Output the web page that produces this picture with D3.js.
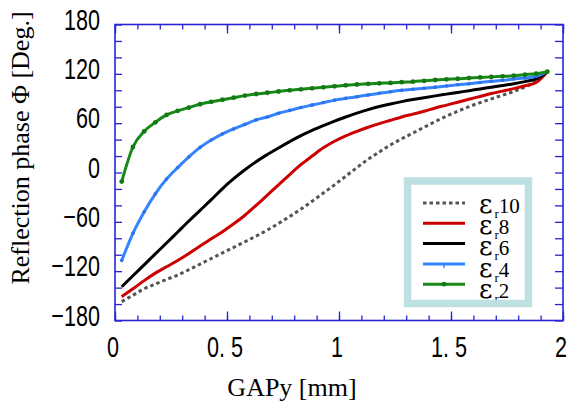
<!DOCTYPE html>
<html>
<head>
<meta charset="utf-8">
<script src="https://cdn.jsdelivr.net/npm/d3@7"></script>
<style>
  body { margin: 0; background: #fff; }
  svg { display: block; }
</style>
</head>
<body>
<div id="chart"></div>
<script>
// GAPy values (mm) shared by all curves
const gapY = [0.03, 0.08, 0.13, 0.18, 0.23, 0.28, 0.33, 0.38, 0.43, 0.48,
    0.53, 0.58, 0.63, 0.68, 0.73, 0.78, 0.83, 0.88, 0.93, 0.98,
    1.03, 1.08, 1.13, 1.18, 1.23, 1.28, 1.33, 1.38, 1.43, 1.48,
    1.53, 1.58, 1.63, 1.68, 1.73, 1.78, 1.83, 1.88, 1.93];

// Reflection phase (deg) for each permittivity
const er10 = [-157, -149.3, -141.5, -135.6, -130.1, -124.6, -118.2, -111.4, -104.6, -97.8,
    -91, -84.2, -77.3, -70, -62, -53.5, -44.5, -35, -25, -15,
    -4.5, 6, 16, 25, 33.5, 41, 48, 55, 62, 68.5,
    74.5, 80, 85, 89.5, 94, 98.5, 104, 110.5, 122.6];
const er8 = [-151, -141.5, -131.5, -122.4, -114.7, -107, -98.5, -89.4, -80.7, -72,
    -62.4, -52, -40, -27.5, -15, -2.5, 9.5, 20, 30, 38,
    44.5, 50, 55, 59.5, 63.5, 67.5, 71, 74.5, 78.5, 82,
    85.5, 89, 92.5, 96, 99, 102, 105.5, 109.5, 122.6];
const er6 = [-139, -125.6, -112.4, -99, -85.8, -72.4, -59, -46, -33, -19.5,
    -7.5, 3.3, 13.2, 21.8, 29.8, 37.5, 44.8, 51.2, 57, 62.5,
    67.5, 72.2, 76.5, 80.2, 83.4, 86.2, 88.7, 91, 93.2, 95.3,
    97.4, 99.5, 101.6, 103.7, 105.8, 108, 110.5, 113.8, 122.6];
const er4 = [-107, -74, -48, -26, -8, 6, 19, 30.5, 39.5, 47,
    53, 58.5, 64, 67.5, 72, 75.5, 79, 82, 85, 88,
    90.2, 92.2, 94.3, 96.3, 98.3, 100, 101.3, 102.5, 103.8, 105.2,
    106.8, 108, 109.5, 110.9, 112.1, 113.7, 115, 117, 122.6];
const er2 = [-11, 31, 50, 61, 70, 75, 79, 83, 86, 88.5,
    91, 93.5, 95.5, 97, 98.5, 100, 101.2, 102.4, 103.6, 104.8,
    106, 107, 107.8, 108.5, 109, 109.8, 110.5, 111.5, 112.5, 113.3,
    114, 114.8, 115.6, 116.3, 117, 117.8, 119, 120.2, 122.6];

const seriesNames = ["10", "8", "6", "4", "2"];
const xTicks = [0, 0.5, 1, 1.5, 2];
const xTickLabels = ["0", "0. 5", "1", "1. 5", "2"];
const yTicks = [-180, -120, -60, 0, 60, 120, 180];

const series = [
    { name: seriesNames[0], values: er10, color: "#555555", dash: "3.5,3", marker: null },
    { name: seriesNames[1], values: er8, color: "#cc0000", dash: null, marker: null },
    { name: seriesNames[2], values: er6, color: "#000000", dash: null, marker: null },
    { name: seriesNames[3], values: er4, color: "#3385ff", dash: null, marker: "tick" },
    { name: seriesNames[4], values: er2, color: "#188818", dash: null, marker: "dot" }
];

const width = 568, height = 408;
const plotL = 115, plotR = 563, plotT = 24.5, plotB = 320.5;
const axisColor = "#2626d6";

const svg = d3.select("#chart")
    .append("svg")
    .attr("width", width)
    .attr("height", height);

svg.append("rect").attr("width", width).attr("height", height).attr("fill", "#fff");

const x = d3.scaleLinear().domain([0, 2]).range([plotL, plotR]);
const y = d3.scaleLinear().domain([-180, 180]).range([plotB, plotT]);

// Inward ticks on all four sides
const minorX = d3.range(0, 21).map(d => d / 10);
const allY = d3.range(-180, 181, 20);

function styleAxis(g) {
    g.select(".domain").remove();
    g.selectAll(".tick line").attr("stroke", axisColor).attr("stroke-width", 1.3);
    g.selectAll(".tick text").remove();
}

svg.append("g").attr("transform", `translate(0,${plotB})`)
    .call(d3.axisBottom(x).tickValues(minorX).tickSize(-5)).call(styleAxis);
svg.append("g").attr("transform", `translate(0,${plotB})`)
    .call(d3.axisBottom(x).tickValues(xTicks).tickSize(-9)).call(styleAxis);
svg.append("g").attr("transform", `translate(0,${plotT})`)
    .call(d3.axisTop(x).tickValues(minorX).tickSize(-5)).call(styleAxis);
svg.append("g").attr("transform", `translate(0,${plotT})`)
    .call(d3.axisTop(x).tickValues(xTicks).tickSize(-9)).call(styleAxis);
svg.append("g").attr("transform", `translate(${plotL},0)`)
    .call(d3.axisLeft(y).tickValues(allY).tickSize(-7)).call(styleAxis);
svg.append("g").attr("transform", `translate(${plotR},0)`)
    .call(d3.axisRight(y).tickValues(allY).tickSize(-8)).call(styleAxis);

// Frame
svg.append("rect")
    .attr("x", plotL).attr("y", plotT)
    .attr("width", plotR - plotL).attr("height", plotB - plotT)
    .attr("fill", "none")
    .attr("stroke", axisColor)
    .attr("stroke-width", 1.6);

// Tick labels (condensed digits)
svg.selectAll(".xlab")
    .data(xTicks)
    .join("text")
    .attr("class", "xlab")
    .attr("transform", d => `translate(${x(d) - 2},357) scale(0.72,1)`)
    .attr("text-anchor", "middle")
    .style("font-family", "Liberation Sans, Arial, sans-serif")
    .style("font-size", "30px")
    .text((d, i) => xTickLabels[i]);

svg.selectAll(".ylab")
    .data(yTicks)
    .join("text")
    .attr("class", "ylab")
    .attr("transform", d => `translate(100,${y(d) + 5}) scale(0.72,1)`)
    .attr("text-anchor", "end")
    .style("font-family", "Liberation Sans, Arial, sans-serif")
    .style("font-size", "30px")
    .text(d => d < 0 ? "\u2212" + Math.abs(d) : d);

// Axis titles
svg.append("text")
    .attr("x", 292).attr("y", 396)
    .attr("text-anchor", "middle")
    .style("font-family", "Liberation Serif, Times New Roman, serif")
    .style("font-size", "26px")
    .text("GAPy [mm]");

svg.append("text")
    .attr("transform", "translate(29,148) rotate(-90)")
    .attr("text-anchor", "middle")
    .style("font-family", "Liberation Serif, Times New Roman, serif")
    .style("font-size", "26px")
    .text("Reflection phase \u03A6 [Deg.]");

// Curves
const line = d3.line()
    .x((d, i) => x(gapY[i]))
    .y(d => y(d))
    .curve(d3.curveMonotoneX);

series.forEach(s => {
    svg.append("path")
        .datum(s.values)
        .attr("d", line)
        .attr("fill", "none")
        .attr("stroke", s.color)
        .attr("stroke-width", 3)
        .attr("stroke-dasharray", s.dash)
        .attr("stroke-linejoin", "round");
    if (s.marker === "dot") {
        svg.selectAll(null)
            .data(s.values)
            .join("circle")
            .attr("cx", (d, i) => x(gapY[i]))
            .attr("cy", d => y(d))
            .attr("r", 2.4)
            .attr("fill", "#137a13");
    } else if (s.marker === "tick") {
        svg.selectAll(null)
            .data(s.values)
            .join("circle")
            .attr("cx", (d, i) => x(gapY[i]))
            .attr("cy", d => y(d))
            .attr("r", 1.8)
            .attr("fill", "#2f6fe8");
    }
});

// Legend
const legend = svg.append("g");
legend.append("rect")
    .attr("x", 407.5).attr("y", 181)
    .attr("width", 121).attr("height", 122.5)
    .attr("fill", "#fff");

series.forEach((s, i) => {
    const ly = 203 + i * 20.3;
    legend.append("line")
        .attr("x1", 423).attr("x2", 465)
        .attr("y1", ly).attr("y2", ly)
        .attr("stroke", s.color)
        .attr("stroke-width", 3)
        .attr("stroke-dasharray", s.dash);
    if (s.marker === "dot") {
        legend.append("circle").attr("cx", 444).attr("cy", ly).attr("r", 2.4).attr("fill", "#137a13");
    } else if (s.marker === "tick") {
        legend.append("line")
            .attr("x1", 444).attr("x2", 444).attr("y1", ly).attr("y2", ly + 4)
            .attr("stroke", s.color).attr("stroke-width", 1.5);
    }
    const t = legend.append("text")
        .attr("x", 479).attr("y", 213 + i * 21.2)
        .style("font-family", "Liberation Serif, Times New Roman, serif")
        .style("font-size", "20px");
    t.append("tspan").style("font-family", "DejaVu Serif, serif").style("font-size", "26px").text("\u03B5");
    t.append("tspan").attr("dx", 2).attr("dy", 5).style("font-size", "13px").text("r");
    t.append("tspan").attr("dy", -5).style("font-size", "21px").text(s.name);
});

// Legend border drawn over the text so the last label is clipped like the original
legend.append("rect")
    .attr("x", 407.5).attr("y", 181)
    .attr("width", 121).attr("height", 122.5)
    .attr("fill", "none")
    .attr("stroke", "#bde0e3")
    .attr("stroke-width", 7.5);
</script>
</body>
</html>
